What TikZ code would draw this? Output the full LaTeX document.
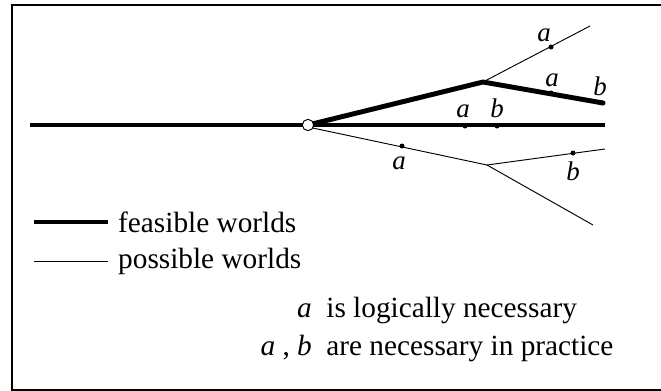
\documentclass[tikz,border=0pt]{standalone}
\usepackage{fontspec}
\setmainfont{Liberation Serif}
\usetikzlibrary{positioning}
\tikzset{
  feasible/.style={black,line width=4.2pt},
  possible/.style={black,line width=0.8pt},
  world/.style={circle,draw=black,fill=white,line width=0.8pt,minimum size=3.4mm,inner sep=0pt},
  event/.style={circle,fill=black,minimum size=1.5mm,inner sep=0pt},
  tag/.style={font=\fontsize{23}{26}\selectfont\itshape,inner sep=0pt},
  caption/.style={font=\fontsize{25}{29}\selectfont,inner sep=0pt},
}

\begin{document}
\begin{tikzpicture}[x=0.03cm,y=-0.03cm]
  \path[use as bounding box] (0,0) rectangle (661,391);
  \draw[black,line width=1.6pt] (12,5) rectangle (663,390);

  \coordinate (start) at (30,125);
  \coordinate (mainend) at (605,125);
  \coordinate (upfork) at (483,82);
  \coordinate (upend) at (603,103);
  \coordinate (upthin) at (590,26);
  \coordinate (lowfork) at (487,165);
  \coordinate (lowright) at (605,149);
  \coordinate (lowdown) at (593,225);

  \draw[possible] (upfork) -- (upthin);
  \draw[possible] (308,127) -- (lowfork) -- (lowright);
  \draw[possible] (lowfork) -- (lowdown);
  \draw[feasible] (start) -- (mainend);
  \draw[feasible,line join=round] (308,125) -- (upfork) -- (upend);
  \node[world] (now) at (308,125) {};

  \node[event] (ua) at (551,47) {};
  \node[event] (ma) at (551,93) {};
  \node[event] (mb) at (603,103) {};
  \node[event] (ca) at (465,126) {};
  \node[event] (cb) at (497,126) {};
  \node[event] (la) at (402,146) {};
  \node[event] (lb) at (573,153) {};

  \node[tag] (uatag) at (544,35) {a};
  \node[tag] (matag) at (552,80) {a};
  \node[tag] (mbtag) at (600,86) {b};
  \node[tag] (catag) at (463,111) {a};
  \node[tag] (cbtag) at (497,108) {b};
  \node[tag] (latag) at (399,163) {a};
  \node[tag] (lbtag) at (573,171) {b};

  \coordinate (thickfrom) at (34,222);
  \coordinate (thinfrom) at (34,261);
  \node[caption,anchor=west] (feas) at (118,222) {feasible worlds};
  \node[caption,anchor=west] (poss) at (118,261) {possible worlds};
  \draw[feasible] (thickfrom) -- ++(74,0);
  \draw[possible] (thinfrom) -- ++(74,0);

  \node[caption] (logical) at (437,310) {\textit{a}\enspace is logically necessary};
  \node[caption] (practice) at (437,348) {\textit{a} , \textit{b}\enspace are necessary in practice};
\end{tikzpicture}
\end{document}
